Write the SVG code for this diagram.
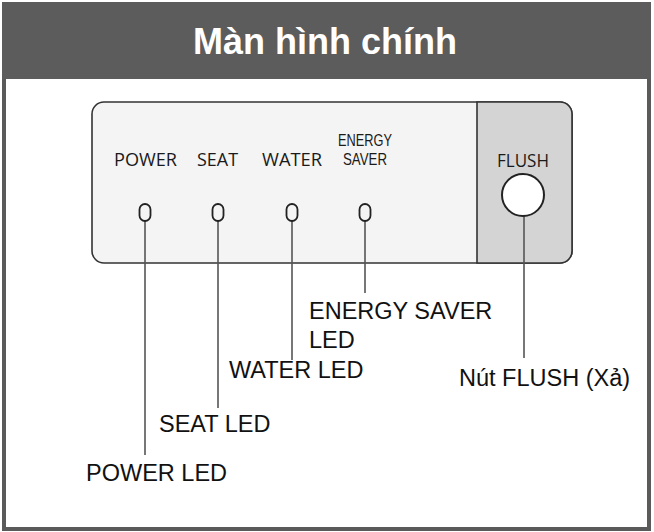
<svg xmlns="http://www.w3.org/2000/svg" width="654" height="532" viewBox="0 0 654 532">
<style>
.pl{font-family:"Open Sans","Noto Sans",sans-serif;font-size:18.5px;fill:#1a1a1a}
.es{font-family:"Liberation Sans",Arial,sans-serif;font-size:17px;fill:#1a1a1a}
.lb{font-family:"Liberation Sans",Arial,sans-serif;font-size:23.5px;fill:#111}
.ln{stroke:#555;stroke-width:1.6;fill:none}
.led{fill:none;stroke:#222;stroke-width:1.8}
</style>
<rect x="0" y="0" width="654" height="532" fill="#ffffff"/>
<g id="frame">
<rect x="4" y="4" width="645" height="525" fill="#ffffff" stroke="#5a5a5a" stroke-width="4"/>
<rect x="2" y="2" width="649" height="77" fill="#5c5c5c"/>
<text x="325" y="54" text-anchor="middle" font-family="Liberation Sans,Arial,sans-serif" font-weight="bold" font-size="36" fill="#ffffff">Màn hình chính</text>
</g>
<g id="panel">
<rect x="92" y="102" width="480" height="161" rx="12" ry="12" fill="#f4f4f4" stroke="#333" stroke-width="1.6"/>
<path d="M477,102 H560 A12,12 0 0 1 572,114 V251 A12,12 0 0 1 560,263 H477 Z" fill="#d4d4d4" stroke="#333" stroke-width="1.6"/>
<text class="pl" x="114" y="166" textLength="63" lengthAdjust="spacingAndGlyphs">POWER</text>
<text class="pl" x="197" y="166" textLength="41" lengthAdjust="spacingAndGlyphs">SEAT</text>
<text class="pl" x="262" y="166" textLength="60" lengthAdjust="spacingAndGlyphs">WATER</text>
<text class="es"><tspan x="338" y="146" textLength="54" lengthAdjust="spacingAndGlyphs">ENERGY</tspan><tspan x="343" y="165" textLength="44" lengthAdjust="spacingAndGlyphs">SAVER</tspan></text>
<text class="pl" x="497" y="167" textLength="52" lengthAdjust="spacingAndGlyphs">FLUSH</text>
</g>
<g id="connectors">
<line class="ln" x1="145" y1="221" x2="145" y2="455"/>
<line class="ln" x1="218" y1="221" x2="218" y2="408"/>
<line class="ln" x1="292" y1="221" x2="292" y2="360"/>
<line class="ln" x1="365" y1="221" x2="365" y2="293"/>
<line class="ln" x1="524" y1="216" x2="524" y2="358"/>
</g>
<g id="led-power"><rect class="led" x="139.5" y="204" width="11" height="17" rx="5.5" ry="5.5"/></g>
<g id="led-seat"><rect class="led" x="212.5" y="204" width="11" height="17" rx="5.5" ry="5.5"/></g>
<g id="led-water"><rect class="led" x="286.5" y="204" width="11" height="17" rx="5.5" ry="5.5"/></g>
<g id="led-energy"><rect class="led" x="359.5" y="204" width="11" height="17" rx="5.5" ry="5.5"/></g>
<g id="flush-button"><circle cx="523" cy="195" r="21" fill="#ffffff" stroke="#222" stroke-width="2"/></g>
<g id="label-energy">
<text class="lb" x="309" y="319">ENERGY SAVER</text>
<text class="lb" x="309" y="348">LED</text>
</g>
<g id="label-water"><text class="lb" x="229" y="378">WATER LED</text></g>
<g id="label-seat"><text class="lb" x="159" y="432">SEAT LED</text></g>
<g id="label-power"><text class="lb" x="86" y="481">POWER LED</text></g>
<g id="label-flush"><text class="lb" x="459" y="386">Nút FLUSH (Xả)</text></g>
</svg>
